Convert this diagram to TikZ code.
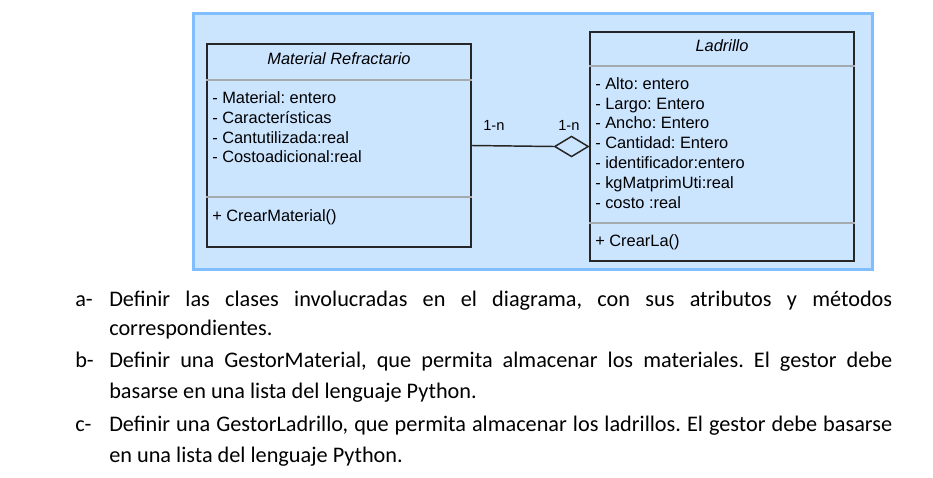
\documentclass[tikz,border=0pt]{standalone}
\usepackage{fontspec}
\setmainfont{Carlito}
\newfontfamily\umlfont{Liberation Sans}
\usetikzlibrary{shapes.geometric}
\definecolor{panelfill}{RGB}{204,229,255}
\definecolor{paneledge}{RGB}{128,190,255}
\definecolor{sepgray}{RGB}{165,170,175}
\frenchspacing

\begin{document}
\begin{tikzpicture}[x=0.75pt,y=-0.75pt,
    classbox/.style={draw=black!85, line width=1.1pt, inner sep=0pt},
    sepline/.style={draw=sepgray, line width=0.9pt},
    umltext/.style={font=\umlfont\fontsize{12.3}{14}\selectfont, inner sep=0pt, anchor=base west},
    umltitle/.style={font=\umlfont\itshape\fontsize{12.3}{14}\selectfont, inner sep=0pt, anchor=base},
    mult/.style={font=\umlfont\fontsize{11}{13}\selectfont, inner sep=0pt, anchor=base west},
    aggr/.style={draw=black!85, line width=1.1pt, shape=diamond, inner sep=0pt, minimum width=25.5pt, minimum height=15.5pt},
    itemtext/.style={font=\fontsize{16.7}{20}\selectfont, inner sep=0pt, anchor=base west}]
        \useasboundingbox (0,0) rectangle (933,478);
        % panel
        \draw [fill=panelfill, draw=paneledge, line width=2.25pt] (193.5,13.5) rectangle (872.5,269.5);
        % classes
        \node [classbox, minimum width=198pt, minimum height=152.25pt] (matref) at (339,145.5) {};
        \node [classbox, minimum width=198pt, minimum height=171.75pt] (lad) at (722,146.5) {};
        \draw [sepline] (matref.west |- 0,80) -- (matref.east |- 0,80);
        \draw [sepline] (matref.west |- 0,197) -- (matref.east |- 0,197);
        \draw [sepline] (lad.west |- 0,66) -- (lad.east |- 0,66);
        \draw [sepline] (lad.west |- 0,223) -- (lad.east |- 0,223);
        \node [umltitle] (matreftitle) at (339,65) {Material Refractario};
        \node [umltitle] (ladtitle) at (722,51.7) {Ladrillo};
        \foreach \attr [count=\i] in {- Material: entero, - Características, - Cantutilizada:real, - Costoadicional:real}
            \node [umltext] (ma\i) at (212,{104+19.5*(\i-1)}) {\attr};
        \foreach \attr [count=\i] in {- Alto: entero, - Largo: Entero, - Ancho: Entero, - Cantidad: Entero, - identificador:entero, - kgMatprimUti:real, - costo :real}
            \node [umltext] (la\i) at (595,{89.3+19.8*(\i-1)}) {\attr};
        \node [umltext] (mm1) at (212,221.7) {+ CrearMaterial()};
        \node [umltext] (lm1) at (595,246.7) {+ CrearLa()};
        % aggregation
        \node [aggr, anchor=east] (agg) at (lad.west) {};
        \draw [black!85, line width=1.1pt] (matref.east) -- (agg.west);
        \node [mult] (multleft) at (483,130.7) {1-n};
        \node [mult] (multright) at (558,130.7) {1-n};
        % tasks
        \node [itemtext] (itema) at (75,306) {a-};
        \node [itemtext] (itema1) at (109,306) {\makebox[587.25pt][s]{Definir las clases involucradas en el diagrama, con sus atributos y métodos}};
        \node [itemtext] (itema2) at (109,335) {correspondientes.};
        \node [itemtext] (itemb) at (75,367) {b-};
        \node [itemtext] (itemb1) at (109,367) {\makebox[587.25pt][s]{Definir una GestorMaterial, que permita almacenar los materiales. El gestor debe}};
        \node [itemtext] (itemb2) at (109,398) {basarse en una lista del lenguaje Python.};
        \node [itemtext] (itemc) at (75,431) {c-};
        \node [itemtext] (itemc1) at (109,431) {\makebox[587.25pt][s]{Definir una GestorLadrillo, que permita almacenar los ladrillos. El gestor debe basarse}};
        \node [itemtext] (itemc2) at (109,462) {en una lista del lenguaje Python.};
\end{tikzpicture}
\end{document}
